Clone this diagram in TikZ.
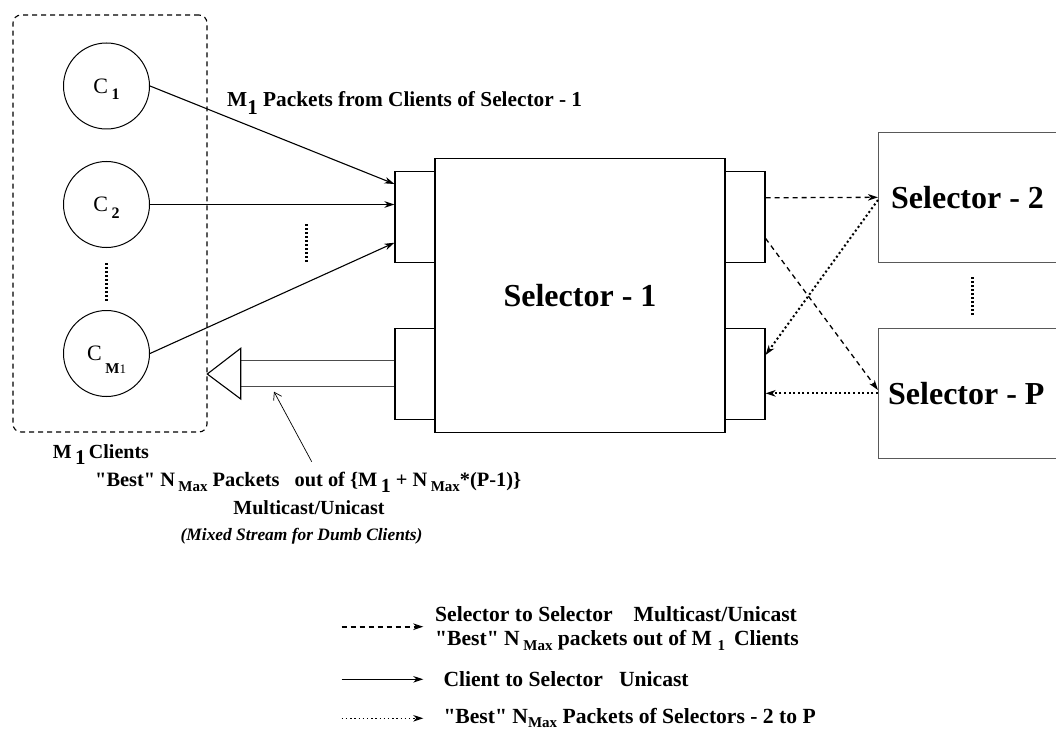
\documentclass[tikz,border=0pt]{standalone}
\usepackage{fontspec}
\setmainfont{Liberation Serif}[Ligatures=TeXOff]
\usetikzlibrary{arrows.meta,calc}
\newcommand{\lowr}[3]{\raisebox{-#1pt}{\fontsize{#2}{#2}\selectfont #3}}
\newcommand{\lowz}[3]{\raisebox{-#1pt}[0pt][0pt]{\fontsize{#2}{#2}\selectfont #3}}
\begin{document}
\begin{tikzpicture}[x=1pt,y=-1pt,
  client/.style={draw, circle, line width=1pt, minimum size=86pt, inner sep=0pt,
                 font=\fontsize{22}{22}\selectfont},
  port/.style={draw, line width=1.1pt, minimum width=40pt, minimum height=91pt, inner sep=0pt},
  mainsel/.style={draw, line width=1.1pt, minimum width=290pt, minimum height=274pt, inner sep=0pt,
                  font=\bfseries\fontsize{32}{32}\selectfont},
  othersel/.style={draw=black!65, line width=1.5pt, minimum width=196pt, minimum height=130pt, inner sep=0pt},
  seltext/.style={anchor=west, inner sep=0pt, font=\bfseries\fontsize{32}{32}\selectfont},
  grp/.style={draw, line width=1.1pt, dash pattern=on 5pt off 4pt, rounded corners=8pt,
              minimum width=194pt, minimum height=417pt, inner sep=0pt},
  lbl/.style={anchor=base west, inner sep=0pt, font=\bfseries\fontsize{21.3}{21.3}\selectfont},
  leg/.style={anchor=base west, inner sep=0pt, font=\bfseries\fontsize{21.6}{21.6}\selectfont},
  clbl/.style={anchor=base, inner sep=0pt, font=\bfseries\fontsize{20}{20}\selectfont},
  tipst/.tip={Stealth[length=10pt,width=6.5pt,inset=3pt]},
  solidarrow/.style={line width=1.1pt, -tipst},
  dasharrow/.style={line width=1.3pt, dash pattern=on 5pt off 4pt, -tipst},
  dotarrow/.style={line width=2pt, dash pattern=on 2pt off 2.6pt, -tipst},
  ellip/.style={line width=3.2pt, dash pattern=on 1.5pt off 2.5pt},
  pointer/.style={line width=0.7pt, -{Straight Barb[length=7pt,width=9pt]}},
  hollow/.style={line width=1.3pt, draw=black!70, fill=white}
]
\path[use as bounding box] (0,0) rectangle (1056,730);
\clip (0,0) rectangle (1056,730);

% client group
\node[grp] (group) at (110,223.5) {};
\node[client] (c1) at (106.5,86) {C\,\lowz{6.7}{16}{\bfseries 1}};
\node[client] (c2) at (106.5,204.5) {C\,\lowz{6.7}{16}{\bfseries 2}};
\node[client] (cm) at (106.5,353.5) {C\,\lowz{13}{15}{\bfseries M\mdseries\fontsize{13}{13}\selectfont 1}};
\draw[ellip] (106.7,263) -- (106.7,302);

% selector 1 and ports
\node[port] (pin1) at (415,217.2) {};
\node[port] (pin2) at (415,373.8) {};
\node[port] (pout1) at (745,217.2) {};
\node[port] (pout2) at (745,373.8) {};
\node[mainsel] (sel1) at (580,295.3) {Selector - 1};

% other selectors
\node[othersel] (sel2) at (976.7,197.3) {};
\node[othersel] (selp) at (976.7,393.3) {};
\node[seltext] (t2) at ([xshift=13pt]sel2.west) {Selector - 2};
\node[seltext] (tp) at ([xshift=10pt]selp.west) {Selector - P};
\draw[ellip] (972.7,277) -- (972.7,315);

% client to selector arrows
\draw[solidarrow] (c1.east) -- ([yshift=33.2pt]pin1.west);
\draw[solidarrow] (c2.east) -- (pin1.west |- c2.east);
\draw[solidarrow] (cm.east) -- ([yshift=-25.5pt]pin1.west);
\draw[ellip] (306.7,224) -- (306.7,263);

% selector to selector arrows
\draw[dasharrow] ([yshift=19.4pt]pout1.east) -- (sel2.west);
\draw[dasharrow] ([yshift=-21.2pt]pout1.east) -- ([yshift=3.3pt]selp.west);
\draw[dotarrow] ([yshift=-2.7pt]sel2.west) -- ([yshift=18.8pt]pout2.east);
\draw[dotarrow] (selp.west) -- (pout2.east |- selp.west);

% hollow output arrow to clients
\draw[hollow] ([yshift=13pt]pin2.west) -- ++(-154.3pt,0pt)
   -- ++(0pt,-26pt) -- ++(154.3pt,0pt);
\draw[hollow, draw=black, line width=1.1pt] (240.7,348.3) -- (207.3,374) -- (240.7,399) -- cycle;
\coordinate (ptail) at (311.7,461.7);
\coordinate (phead) at (274,391.7);
\draw[pointer] (ptail) -- (phead);

% labels
\node[lbl] (top) at (227,106.7) {M\lowr{7.5}{21}{1} Packets from Clients of Selector - 1};
\node[lbl, font=\bfseries\fontsize{20}{20}\selectfont] (mcl) at (52.7,458) {M\,\lowr{6.5}{21}{1}\,Clients};
\node[lbl, font=\bfseries\fontsize{20.4}{20.4}\selectfont] (best) at (95,486.7)
  {"Best" N\,\lowr{5}{15}{Max} Packets\hspace{15pt}out of \{M\,\lowr{6}{20}{1} + N\,\lowr{5}{15}{Max}*(P-1)\}};
\node[clbl] (mu) at (309,514) {Multicast/Unicast};
\node[clbl, font=\bfseries\itshape\fontsize{17.4}{17.4}\selectfont] (mix) at (301.5,540) {(Mixed Stream for Dumb Clients)};

% legend
\coordinate (l1a) at (341.7,626.7); \coordinate (l1b) at (423.3,626.7);
\coordinate (l2a) at (341.7,679.3); \coordinate (l2b) at (423.3,679.3);
\coordinate (l3a) at (341.7,718.3); \coordinate (l3b) at (423.3,718.3);
\draw[dasharrow, line width=1.6pt] (l1a) -- (l1b);
\draw[solidarrow] (l2a) -- (l2b);
\draw[dotarrow, line width=1.4pt, dash pattern=on 1.4pt off 2.8pt] (l3a) -- (l3b);
\node[leg] (lg1) at (435,621.7) {Selector to Selector\hspace{21pt}Multicast/Unicast};
\node[leg] (lg2) at (435,645) {"Best" N\,\lowr{5}{15}{Max} packets out of M \lowr{5}{15}{1}\, Clients};
\node[leg] (lg3) at (443.3,686.7) {Client to Selector\hspace{16pt}Unicast};
\node[leg] (lg4) at (443.3,723.5) {"Best" N\lowr{4}{15}{Max} Packets of Selectors - 2 to P};
\end{tikzpicture}
\end{document}
